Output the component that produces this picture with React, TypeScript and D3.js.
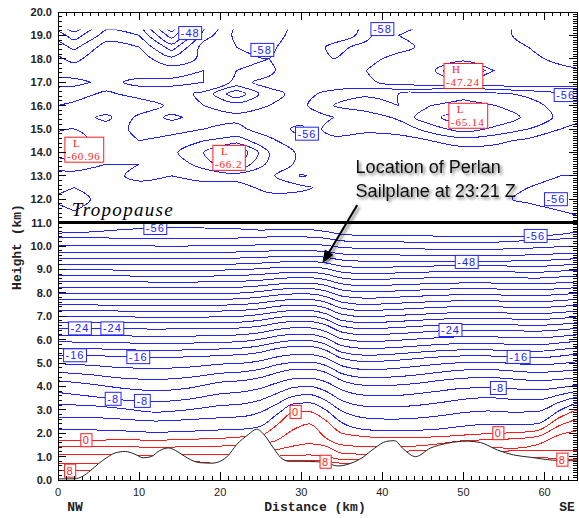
import React, { useEffect, useRef } from 'react';
import * as d3 from 'd3';

// distances (km) at which the tropospheric isotherms were read
const sampleKm = [0, 4, 8, 12, 16, 20, 23, 25, 27, 29, 31, 33, 35, 38, 41, 44, 47, 50, 53, 56, 59, 62, 64];

// warm isotherms (deg C), heights in km at sampleKm
const warmLevels = [8, 6, 4, 2, 0];
const warmHeights = [
  [0.4, 0.42, 0.5, 0.55, 0.6, 0.65, 0.7, 0.75, 0.8, 0.85, 0.85, 0.78, 0.72, 0.7, 0.75, 0.8, 0.85, 0.88, 0.9, 0.92, 0.98, 0.88, 0.86],
  [0.72, 0.72, 0.75, 0.8, 0.8, 0.7, 0.9, 1.0, 1.02, 1.05, 1.07, 1.0, 0.88, 0.85, 0.9, 0.95, 1.0, 1.05, 1.15, 1.25, 1.28, 1.28, 1.28],
  [1.07, 1.07, 1.07, 1.05, 1.07, 1.07, 1.1, 1.2, 1.3, 1.45, 1.55, 1.45, 1.15, 1.1, 1.2, 1.25, 1.3, 1.35, 1.4, 1.35, 1.5, 1.95, 2.1],
  [1.42, 1.42, 1.42, 1.4, 1.42, 1.45, 1.5, 1.55, 1.7, 2.15, 2.4, 1.8, 1.5, 1.43, 1.43, 1.45, 1.55, 1.68, 1.72, 1.76, 1.85, 2.35, 2.6],
  [1.7, 1.7, 1.72, 1.7, 1.74, 1.78, 1.85, 1.9, 2.35, 2.9, 2.92, 2.55, 2.0, 1.85, 1.8, 1.82, 1.85, 1.92, 1.98, 2.02, 2.1, 2.7, 3.0],
];

// cold isotherms -2 .. -56
const coldLevels = d3.range(-2, -57, -2);
const coldHeights = [
  [2.14, 2.14, 2.1, 2.04, 2.08, 2.14, 2.18, 2.3, 2.8, 3.25, 3.3, 3.0, 2.45, 2.15, 2.1, 2.12, 2.18, 2.3, 2.38, 2.35, 2.4, 3.0, 3.3],
  [2.68, 2.67, 2.6, 2.52, 2.58, 2.66, 2.72, 2.9, 3.25, 3.58, 3.65, 3.4, 2.95, 2.65, 2.6, 2.64, 2.74, 2.88, 2.95, 2.9, 2.92, 3.35, 3.55],
  [3.22, 3.18, 3.05, 2.9, 3.0, 3.18, 3.26, 3.42, 3.7, 3.95, 4.0, 3.8, 3.4, 3.15, 3.12, 3.18, 3.3, 3.45, 3.52, 3.45, 3.42, 3.65, 3.8],
  [3.74, 3.58, 3.42, 3.35, 3.45, 3.68, 3.78, 3.92, 4.15, 4.32, 4.35, 4.2, 3.85, 3.62, 3.6, 3.68, 3.8, 3.92, 3.95, 3.9, 3.85, 3.95, 4.05],
  [4.24, 4.1, 3.92, 3.82, 3.92, 4.18, 4.26, 4.38, 4.58, 4.72, 4.74, 4.6, 4.25, 4.05, 4.05, 4.12, 4.25, 4.35, 4.38, 4.32, 4.25, 4.3, 4.38],
  [4.6, 4.5, 4.35, 4.3, 4.38, 4.56, 4.63, 4.74, 4.92, 5.02, 5.03, 4.9, 4.55, 4.38, 4.4, 4.48, 4.6, 4.7, 4.72, 4.66, 4.6, 4.65, 4.72],
  [4.97, 4.9, 4.8, 4.77, 4.82, 4.95, 5.0, 5.1, 5.26, 5.35, 5.36, 5.22, 4.88, 4.72, 4.75, 4.85, 4.95, 5.02, 5.04, 4.98, 4.92, 4.98, 5.05],
  [5.34, 5.32, 5.27, 5.24, 5.26, 5.32, 5.37, 5.46, 5.62, 5.7, 5.7, 5.55, 5.2, 5.06, 5.1, 5.18, 5.26, 5.3, 5.3, 5.26, 5.22, 5.3, 5.38],
  [5.62, 5.61, 5.57, 5.54, 5.56, 5.6, 5.65, 5.74, 5.88, 5.95, 5.95, 5.8, 5.46, 5.33, 5.37, 5.45, 5.52, 5.56, 5.56, 5.52, 5.5, 5.58, 5.65],
  [5.9, 5.89, 5.86, 5.84, 5.85, 5.88, 5.93, 6.02, 6.15, 6.22, 6.22, 6.07, 5.74, 5.62, 5.65, 5.72, 5.79, 5.83, 5.83, 5.8, 5.78, 5.86, 5.93],
  [6.19, 6.18, 6.16, 6.14, 6.15, 6.17, 6.22, 6.3, 6.43, 6.5, 6.5, 6.35, 6.03, 5.92, 5.95, 6.02, 6.08, 6.12, 6.12, 6.09, 6.07, 6.14, 6.2],
  [6.48, 6.48, 6.47, 6.45, 6.46, 6.47, 6.51, 6.58, 6.7, 6.77, 6.77, 6.63, 6.32, 6.2, 6.24, 6.3, 6.37, 6.41, 6.41, 6.38, 6.36, 6.42, 6.48],
  [6.73, 6.73, 6.72, 6.71, 6.71, 6.72, 6.76, 6.83, 6.94, 7.0, 7.0, 6.87, 6.57, 6.46, 6.5, 6.56, 6.62, 6.66, 6.66, 6.63, 6.61, 6.66, 6.72],
  [6.98, 6.98, 6.97, 6.96, 6.96, 6.97, 7.01, 7.08, 7.18, 7.24, 7.24, 7.11, 6.82, 6.72, 6.76, 6.82, 6.87, 6.91, 6.91, 6.88, 6.86, 6.91, 6.97],
  [7.23, 7.23, 7.22, 7.21, 7.21, 7.22, 7.26, 7.32, 7.42, 7.47, 7.47, 7.35, 7.08, 6.98, 7.02, 7.07, 7.12, 7.16, 7.16, 7.13, 7.11, 7.16, 7.22],
  [7.48, 7.48, 7.47, 7.46, 7.46, 7.47, 7.51, 7.57, 7.66, 7.71, 7.71, 7.6, 7.34, 7.24, 7.28, 7.33, 7.38, 7.41, 7.41, 7.38, 7.37, 7.42, 7.47],
  [7.73, 7.73, 7.72, 7.71, 7.71, 7.72, 7.76, 7.82, 7.9, 7.95, 7.95, 7.84, 7.6, 7.5, 7.54, 7.59, 7.63, 7.66, 7.66, 7.63, 7.62, 7.67, 7.72],
  [7.98, 7.98, 7.97, 7.96, 7.96, 7.97, 8.0, 8.06, 8.14, 8.18, 8.18, 8.08, 7.86, 7.77, 7.8, 7.85, 7.89, 7.92, 7.92, 7.89, 7.88, 7.93, 7.97],
  [8.23, 8.23, 8.22, 8.21, 8.21, 8.22, 8.25, 8.3, 8.37, 8.41, 8.41, 8.32, 8.12, 8.04, 8.07, 8.11, 8.15, 8.17, 8.17, 8.14, 8.13, 8.18, 8.22],
  [8.48, 8.48, 8.47, 8.46, 8.46, 8.47, 8.5, 8.54, 8.6, 8.64, 8.64, 8.56, 8.38, 8.3, 8.33, 8.37, 8.4, 8.42, 8.42, 8.39, 8.38, 8.43, 8.47],
  [8.73, 8.73, 8.72, 8.71, 8.71, 8.72, 8.75, 8.79, 8.84, 8.87, 8.87, 8.8, 8.63, 8.56, 8.59, 8.62, 8.65, 8.66, 8.66, 8.64, 8.63, 8.68, 8.72],
  [8.98, 8.98, 8.97, 8.96, 8.96, 8.97, 9.0, 9.03, 9.08, 9.1, 9.1, 9.04, 8.88, 8.82, 8.84, 8.87, 8.9, 8.91, 8.91, 8.89, 8.88, 8.93, 8.97],
  [9.23, 9.23, 9.22, 9.21, 9.21, 9.22, 9.24, 9.27, 9.31, 9.33, 9.33, 9.28, 9.14, 9.08, 9.1, 9.12, 9.15, 9.16, 9.16, 9.14, 9.13, 9.18, 9.22],
  [9.48, 9.48, 9.47, 9.46, 9.46, 9.47, 9.49, 9.51, 9.55, 9.56, 9.56, 9.52, 9.4, 9.35, 9.35, 9.34, 9.33, 9.32, 9.33, 9.36, 9.38, 9.42, 9.46],
  [9.74, 9.74, 9.73, 9.72, 9.72, 9.73, 9.75, 9.77, 9.8, 9.81, 9.8, 9.76, 9.66, 9.62, 9.62, 9.6, 9.58, 9.57, 9.58, 9.6, 9.63, 9.67, 9.7],
  [10.02, 10.02, 10.01, 10.0, 10.0, 10.01, 10.03, 10.05, 10.07, 10.08, 10.07, 10.03, 9.94, 9.9, 9.9, 9.88, 9.86, 9.85, 9.86, 9.88, 9.92, 9.97, 10.0],
  [10.35, 10.35, 10.33, 10.3, 10.3, 10.32, 10.35, 10.37, 10.4, 10.4, 10.38, 10.33, 10.22, 10.18, 10.18, 10.16, 10.14, 10.13, 10.15, 10.2, 10.25, 10.3, 10.33],
  [10.55, 10.6, 10.7, 10.77, 10.78, 10.75, 10.72, 10.68, 10.7, 10.72, 10.7, 10.62, 10.5, 10.45, 10.47, 10.45, 10.42, 10.4, 10.4, 10.42, 10.43, 10.5, 10.6],
];

// stratosphere temperature grid (deg C): columns at stratKm, rows at stratHeights
const stratKm = [-2, 2, 6, 10, 14, 18, 22, 26, 30, 34, 38, 42, 46, 50, 54, 58, 62, 66];
const stratHeights = [11, 11.5, 12, 12.5, 13, 13.5, 14, 14.5, 15, 15.5, 16, 16.5, 17, 17.5, 18, 18.5, 19, 19.5];
const stratTemps = [
  [-56, -56.5, -56.5, -56.5, -56, -56.5, -57, -57, -57, -57, -56.5, -57, -57, -56.5, -56.5, -57, -56.5, -56],
  [-56.5, -56, -56.5, -57, -57, -57, -57, -57, -57, -57, -57, -57, -57, -57, -57, -57, -56, -56],
  [-56, -55.5, -56.5, -57, -57, -57, -57, -57, -57, -57, -57, -57, -57, -57, -56.5, -55.5, -55.5, -56],
  [-56.5, -56, -57, -57, -58, -57.5, -57, -58.8, -58.5, -57, -57, -57, -57, -57, -57, -56, -55.5, -55.5],
  [-57, -57, -57, -58.8, -58, -58.5, -59, -58.5, -55.8, -57, -57, -57, -57, -57, -57, -56.5, -56, -56],
  [-59, -59.5, -58, -58, -58.5, -61, -64, -59.5, -57.5, -57, -57, -57, -57, -57, -57, -57, -56.5, -56.5],
  [-60, -60.96, -59.5, -58.5, -59.5, -62, -66.2, -60, -57.5, -57, -57, -57, -57, -57, -57, -57, -57, -57],
  [-60.5, -60.5, -59.5, -58, -58.5, -60, -61, -58.5, -56.5, -57, -57, -57.5, -58, -59, -58.5, -57.5, -57.5, -57.5],
  [-59.5, -60, -59, -57.5, -57.5, -58, -58.5, -57, -55.5, -59.5, -58.5, -58.5, -61, -63, -61.5, -60, -58, -57.5],
  [-58.5, -59, -60.5, -57.5, -55.5, -57, -57.5, -57, -57, -58, -58.5, -60.5, -63.5, -65.14, -63.5, -61.5, -59.5, -58],
  [-57.5, -58.5, -58.5, -59.5, -57.5, -58, -59, -58, -57.5, -60, -61.5, -60, -62, -63, -62, -61, -59, -58.5],
  [-57, -57, -58.5, -57, -57, -58.5, -63.5, -58.5, -57.5, -58.5, -59.5, -60, -60.5, -61, -60.5, -59.5, -58.5, -58.5],
  [-55.5, -55.5, -56.5, -55.5, -55.5, -56, -58.5, -57.5, -57, -57, -56.5, -55, -54.5, -54.5, -54, -54, -54.5, -55],
  [-57, -57, -57, -57, -57, -56, -58, -58.5, -56, -57.5, -56, -56, -55, -47.24, -54.5, -55, -55.5, -56],
  [-57, -55.5, -57.5, -57, -54.5, -56.5, -57, -58, -56, -58, -56.5, -55.5, -55, -55.5, -55, -55.5, -56.5, -57],
  [-56.5, -53.5, -57, -56, -51, -57, -58, -58.5, -56.5, -58.5, -57.5, -56.5, -55.5, -55, -55.5, -56, -57, -57],
  [-55, -51, -55, -54, -47, -55, -58.5, -59, -57, -57, -58.5, -56, -55.5, -55, -55.5, -56.5, -57, -57],
  [-53, -48, -53, -52, -44, -53, -58.5, -59, -57.5, -56.5, -58.5, -57.5, -55.5, -55.5, -55.5, -56.5, -57, -57],
];

// ground profile
const terrainKm = [0, 2, 3, 4, 5, 6, 7, 8.3, 9.5, 10.5, 11.5, 12.5, 13.6, 14.8, 16, 17.5, 19, 20, 21, 22, 23.5, 24.5, 25.5, 26.5, 27.5, 28.5, 30, 32, 33.5, 34.5, 36, 37.5, 39, 40.5, 41.5, 42.6, 44.1, 45.9, 48, 50.5, 52.1, 54.2, 56.2, 58.3, 61, 64];
const terrainZ = [0.05, 0.05, 0.15, 0.4, 0.7, 0.95, 1.15, 1.22, 1.1, 0.95, 1.0, 1.25, 1.37, 1.2, 0.93, 0.74, 0.72, 0.8, 1.05, 1.5, 1.95, 2.17, 1.9, 1.4, 0.95, 0.8, 0.8, 0.78, 0.68, 0.6, 0.7, 0.95, 1.35, 1.65, 1.68, 1.32, 1.0, 1.36, 1.57, 1.66, 1.6, 1.28, 1.07, 0.97, 0.85, 0.82];

// contour labels: [text, km, height km]
const blueLabels: [string, number, number][] = [
  ['-48', 16.3, 19.1], ['-58', 25.2, 18.38], ['-58', 40.0, 19.27], ['-56', 30.7, 14.8],
  ['-56', 62.6, 16.45], ['-56', 61.4, 12.0], ['-56', 12.0, 10.77], ['-56', 58.9, 10.43],
  ['-48', 50.4, 9.32], ['-24', 2.7, 6.48], ['-24', 6.7, 6.48], ['-24', 48.4, 6.41],
  ['-16', 2.1, 5.33], ['-16', 9.9, 5.25], ['-16', 56.8, 5.26],
  ['-8', 6.8, 3.47], ['-8', 10.4, 3.38], ['-8', 54.3, 3.93],
];
const redLabels: [string, number, number][] = [
  ['0', 3.5, 1.7], ['0', 29.3, 2.91], ['0', 54.3, 2.0],
  ['8', 1.5, 0.4], ['8', 33.0, 0.78], ['8', 62.2, 0.87],
];
// extrema: [kind, value, km, height km] (top-left of box)
const extremes: [string, string, number, number][] = [
  ['L', '-60.96', 0.85, 14.65], ['L', '-66.2', 19.1, 14.3],
  ['H', '-47.24', 47.6, 17.8], ['L', '-65.14', 48.2, 16.1],
];

const distanceTicks = [0, 10, 20, 30, 40, 50, 60];

const BLUE = '#2222ff';
const RED = '#ff1a1a';

export default function App() {
  const ref = useRef<SVGSVGElement>(null);

  useEffect(() => {
    const svg = d3.select(ref.current);
    svg.selectAll('*').remove();

    const x = d3.scaleLinear().domain([0, 64]).range([58, 577]);
    const y = d3.scaleLinear().domain([0, 20]).range([480, 12]);

    const defs = svg.append('defs');
    defs.append('clipPath').attr('id', 'plotClip').append('rect')
      .attr('x', x(0)).attr('y', y(20)).attr('width', x(64) - x(0)).attr('height', y(0) - y(20));
    defs.append('clipPath').attr('id', 'stratClip').append('rect')
      .attr('x', x(0)).attr('y', y(19.25)).attr('width', x(64) - x(0)).attr('height', y(11) - y(19.25));
    const f = defs.append('filter').attr('id', 'shadow').attr('x', '-10%').attr('y', '-30%').attr('width', '130%').attr('height', '170%');
    f.append('feGaussianBlur').attr('in', 'SourceAlpha').attr('stdDeviation', 1.6).attr('result', 'b');
    f.append('feOffset').attr('in', 'b').attr('dx', 2).attr('dy', 2).attr('result', 'o');
    f.append('feComponentTransfer').attr('in', 'o').attr('result', 's')
      .append('feFuncA').attr('type', 'linear').attr('slope', 0.55);
    const mg = f.append('feMerge');
    mg.append('feMergeNode').attr('in', 's');
    mg.append('feMergeNode').attr('in', 'SourceGraphic');

    const plot = svg.append('g').attr('clip-path', 'url(#plotClip)').attr('fill', 'none');

    // tropospheric isotherms
    const iso = d3.line<number>().x((_, i) => x(sampleKm[i])).y(d => y(d)).curve(d3.curveMonotoneX);
    const lines = plot.append('g').attr('shape-rendering', 'crispEdges');
    coldHeights.forEach(h => lines.append('path').attr('d', iso(h)).attr('stroke', BLUE).attr('stroke-width', 1));
    warmHeights.forEach(h => lines.append('path').attr('d', iso(h)).attr('stroke', RED).attr('stroke-width', 1));

    // stratospheric contours
    const nx = stratKm.length, nz = stratHeights.length;
    const gx = d3.scaleLinear().domain([0.5, nx - 0.5]).range([stratKm[0], stratKm[nx - 1]]);
    const gz = d3.scaleLinear().domain([0.5, nz - 0.5]).range([stratHeights[0], stratHeights[nz - 1]]);
    const sets = d3.contours().size([nx, nz]).thresholds(d3.range(-66, -45, 2))(stratTemps.flat());
    const ring = d3.line<number[]>().x(p => x(gx(p[0]))).y(p => y(gz(p[1]))).curve(d3.curveCatmullRomClosed.alpha(0.5));
    const strat = svg.append('g').attr('clip-path', 'url(#stratClip)').attr('fill', 'none').attr('shape-rendering', 'crispEdges');
    sets.forEach(s => s.coordinates.forEach(poly => poly.forEach(r => {
      strat.append('path').attr('d', ring(r as number[][])).attr('stroke', BLUE).attr('stroke-width', 1);
    })));

    // terrain
    const terr = terrainKm.map((k, i) => [k, terrainZ[i]] as [number, number]);
    plot.append('path')
      .attr('d', d3.area<[number, number]>().x(d => x(d[0])).y0(y(0)).y1(d => y(d[1])).curve(d3.curveMonotoneX)(terr))
      .attr('fill', '#fff').attr('stroke', 'none');
    plot.append('path')
      .attr('d', d3.line<[number, number]>().x(d => x(d[0])).y(d => y(d[1])).curve(d3.curveMonotoneX)(terr))
      .attr('stroke', '#222').attr('stroke-width', 1);

    // boxed contour labels
    const boxLabel = (txt: string, k: number, z: number, color: string) => {
      const g = svg.append('g');
      const t = g.append('text').attr('x', x(k)).attr('y', y(z) + 4)
        .attr('text-anchor', 'middle').attr('font-family', 'Liberation Sans, Arial, sans-serif')
        .attr('font-size', 11).attr('letter-spacing', 1).attr('fill', color).text(txt);
      const bb = (t.node() as SVGTextElement).getBBox();
      g.insert('rect', 'text').attr('x', bb.x - 2).attr('y', y(z) - 6.5)
        .attr('width', bb.width + 4).attr('height', 13)
        .attr('fill', '#fff').attr('stroke', color).attr('stroke-width', 1);
    };
    blueLabels.forEach(([t, k, z]) => boxLabel(t, k, z, BLUE));
    redLabels.forEach(([t, k, z]) => boxLabel(t, k, z, RED));

    extremes.forEach(([kind, val, k, z]) => {
      const g = svg.append('g');
      const x0 = x(k), y0 = y(z);
      const family = 'Liberation Serif, serif';
      g.append('text').attr('x', x0 + 8).attr('y', y0 + 10)
        .attr('font-family', family).attr('font-size', 11).attr('fill', RED).text(kind);
      const tv = g.append('text').attr('x', x0 + 2).attr('y', y0 + 22.5)
        .attr('font-family', family).attr('font-size', 11).attr('letter-spacing', 0.9)
        .attr('fill', RED).text(val);
      const bb = (tv.node() as SVGTextElement).getBBox();
      g.insert('rect', 'text').attr('x', x0).attr('y', y0)
        .attr('width', bb.x + bb.width - x0 + 3).attr('height', 25)
        .attr('fill', '#fff').attr('stroke', RED).attr('stroke-width', 1);
    });

    // tropopause
    svg.append('line').attr('x1', x(0)).attr('x2', x(64)).attr('y1', y(11)).attr('y2', y(11))
      .attr('stroke', '#000').attr('stroke-width', 3);
    svg.append('text').attr('x', x(1.7)).attr('y', y(11.27))
      .attr('font-family', 'Liberation Serif, Times New Roman, serif').attr('font-style', 'italic')
      .attr('font-size', 19).attr('textLength', 101).attr('lengthAdjust', 'spacing')
      .attr('fill', '#000').text('Tropopause');

    // frame and ticks
    const axes = svg.append('g').attr('stroke', '#000').attr('stroke-width', 1).attr('shape-rendering', 'crispEdges');
    axes.append('rect').attr('x', x(0)).attr('y', y(20)).attr('width', x(64) - x(0)).attr('height', y(0) - y(20)).attr('fill', 'none');
    d3.range(0, 65).forEach(k => {
      const len = k % 10 === 0 ? 8 : 4;
      axes.append('line').attr('x1', x(k)).attr('x2', x(k)).attr('y1', y(0)).attr('y2', y(0) - len);
      axes.append('line').attr('x1', x(k)).attr('x2', x(k)).attr('y1', y(20)).attr('y2', y(20) + len);
    });
    d3.range(0, 101).forEach(i => {
      const z = i * 0.2;
      const len = i % 5 === 0 ? 8 : 4;
      axes.append('line').attr('x1', x(0)).attr('x2', x(0) + len).attr('y1', y(z)).attr('y2', y(z));
    });
    d3.range(0, 201).forEach(i => {
      const z = i * 0.1;
      const len = i % 10 === 0 ? 8 : 4;
      axes.append('line').attr('x1', x(64)).attr('x2', x(64) - len).attr('y1', y(z)).attr('y2', y(z));
    });

    const tickFont = 'Liberation Sans, Arial, sans-serif';
    d3.range(0, 21).forEach(z => {
      svg.append('text').attr('x', x(0) - 6).attr('y', y(z) + 4).attr('text-anchor', 'end')
        .attr('font-family', tickFont).attr('font-weight', 'bold').attr('font-size', 11).attr('fill', '#222')
        .text(d3.format('.1f')(z));
    });
    distanceTicks.forEach(k => {
      svg.append('text').attr('x', x(k)).attr('y', 496).attr('text-anchor', 'middle')
        .attr('font-family', tickFont).attr('font-size', 11).attr('fill', '#222').text(String(k));
    });

    const titleFont = 'Liberation Mono, Courier New, monospace';
    svg.append('text').attr('x', 315).attr('y', 511).attr('text-anchor', 'middle')
      .attr('font-family', titleFont).attr('font-weight', 'bold').attr('font-size', 13).attr('fill', '#222').text('Distance (km)');
    svg.append('text').attr('x', 75).attr('y', 511).attr('text-anchor', 'middle')
      .attr('font-family', titleFont).attr('font-weight', 'bold').attr('font-size', 13).attr('fill', '#222').text('NW');
    svg.append('text').attr('x', 567).attr('y', 511).attr('text-anchor', 'middle')
      .attr('font-family', titleFont).attr('font-weight', 'bold').attr('font-size', 13).attr('fill', '#222').text('SE');
    svg.append('text').attr('transform', 'translate(21,247) rotate(-90)').attr('text-anchor', 'middle')
      .attr('font-family', titleFont).attr('font-weight', 'bold').attr('font-size', 13).attr('fill', '#222').text('Height (km)');

    // sailplane annotation
    const note = svg.append('g').attr('filter', 'url(#shadow)');
    note.append('text').attr('x', x(36.7)).attr('y', y(13.12))
      .attr('font-family', 'Liberation Sans, Arial, sans-serif').attr('font-size', 18).attr('fill', '#111')
      .text('Location of Perlan');
    note.append('text').attr('x', x(36.7)).attr('y', y(13.12) + 24)
      .attr('font-family', 'Liberation Sans, Arial, sans-serif').attr('font-size', 18).attr('fill', '#111')
      .text('Sailplane at 23:21 Z');
    const ax0 = x(36.9), ay0 = y(11.75), ax1 = x(32.6), ay1 = y(9.26);
    const ang = Math.atan2(ay1 - ay0, ax1 - ax0);
    const hl = 13, hw = 5;
    const bx = ax1 - hl * Math.cos(ang), by = ay1 - hl * Math.sin(ang);
    note.append('line').attr('x1', ax0).attr('y1', ay0).attr('x2', bx).attr('y2', by)
      .attr('stroke', '#000').attr('stroke-width', 2);
    note.append('path')
      .attr('d', `M${ax1},${ay1}L${bx + hw * Math.sin(ang)},${by - hw * Math.cos(ang)}L${bx - hw * Math.sin(ang)},${by + hw * Math.cos(ang)}Z`)
      .attr('fill', '#000');
  }, []);

  return (
    <svg ref={ref} width={579} height={518}
      style={{ position: 'absolute', left: 0, top: 0, background: '#fff', display: 'block' }} />
  );
}
